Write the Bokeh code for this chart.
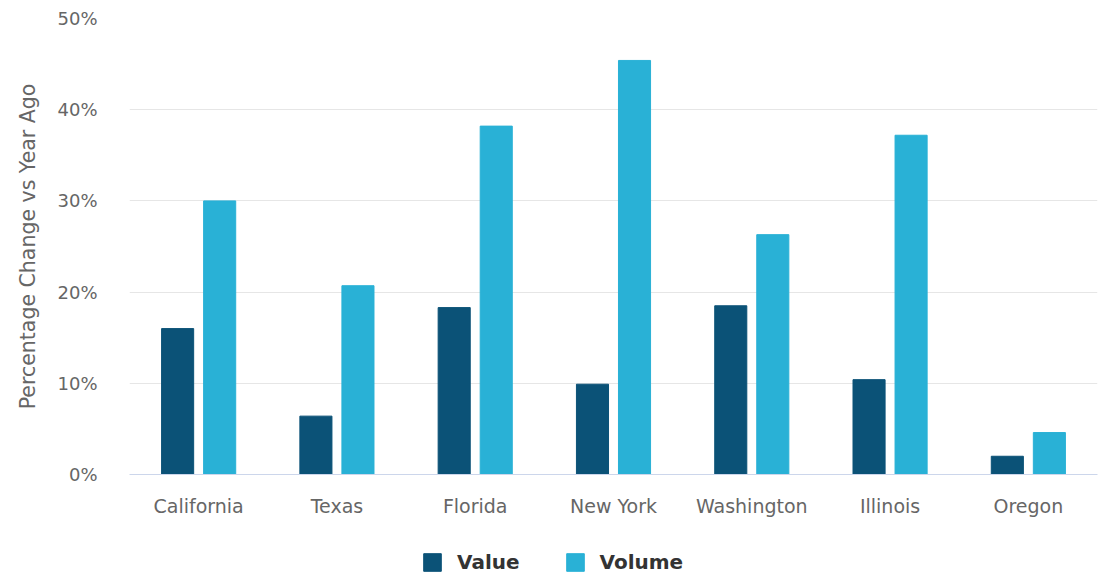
from bokeh.plotting import figure
from bokeh.models import ColumnDataSource, FactorRange, Legend, LegendItem, NumeralTickFormatter, FixedTicker, Range1d
from bokeh.layouts import column
from bokeh.transform import dodge
from bokeh.embed import file_html
from bokeh.resources import INLINE

states = ["California", "Texas", "Florida", "New York", "Washington", "Illinois", "Oregon"]
value_pct = [16.0, 6.4, 18.3, 9.9, 18.5, 10.4, 2.0]
volume_pct = [30.0, 20.7, 38.2, 45.4, 26.3, 37.2, 4.6]
y_ticks = [0, 10, 20, 30, 40, 50]
series_names = ["Value", "Volume"]
series_colors = ["#0b5277", "#29b1d6"]

src = ColumnDataSource(dict(state=states,
                            value=[v / 100 for v in value_pct],
                            volume=[v / 100 for v in volume_pct]))

FONT = "DejaVu Sans"
p = figure(x_range=FactorRange(*states), y_range=Range1d(0, 0.5),
           width=1109, height=530, output_backend="svg", toolbar_location=None,
           min_border_left=129, min_border_right=12, min_border_top=18, min_border_bottom=56)
p.outline_line_color = None

p.vbar(x=dodge("state", -0.152, range=p.x_range), top="value", width=0.232,
       source=src, color=series_colors[0])
p.vbar(x=dodge("state", 0.152, range=p.x_range), top="volume", width=0.232,
       source=src, color=series_colors[1])

p.yaxis.ticker = FixedTicker(ticks=[t / 100 for t in y_ticks])
p.yaxis.formatter = NumeralTickFormatter(format="0%")
p.yaxis.axis_line_color = None
p.yaxis.major_tick_line_color = None
p.yaxis.minor_tick_line_color = None
p.yaxis.major_label_text_font = FONT
p.yaxis.major_label_text_font_size = "18px"
p.yaxis.major_label_text_color = "#666666"
p.yaxis.major_label_standoff = 26
p.yaxis.axis_label = "Percentage Change vs Year Ago"
p.yaxis.axis_label_text_font = FONT
p.yaxis.axis_label_text_font_size = "20.5px"
p.yaxis.axis_label_text_font_style = "normal"
p.yaxis.axis_label_text_color = "#666666"
p.yaxis.axis_label_standoff = 14

p.xaxis.axis_line_color = "#ccd6eb"
p.xaxis.major_tick_line_color = None
p.xaxis.minor_tick_line_color = None
p.xaxis.major_label_text_font = FONT
p.xaxis.major_label_text_font_size = "19px"
p.xaxis.major_label_text_color = "#666666"
p.xaxis.major_label_standoff = 14

p.xgrid.grid_line_color = None
p.ygrid.grid_line_color = "#e6e6e6"
p.x_range.range_padding = 0.0
p.x_range.group_padding = 0.0

# legend strip below the chart (its frame is aligned with the chart's frame)
lg = figure(width=1109, height=47, output_backend="svg", toolbar_location=None,
            x_range=Range1d(0, 1), y_range=Range1d(0, 1),
            min_border_left=129, min_border_right=12, min_border_top=0, min_border_bottom=0)
lg.outline_line_color = None
lg.axis.visible = False
lg.grid.visible = False
items = []
for name, col in zip(series_names, series_colors):
    r = lg.vbar(x=[-5], top=[-5], bottom=[-6], width=0.1, color=col)
    items.append(LegendItem(label=name, renderers=[r]))
legend = Legend(items=items, orientation="horizontal", location=(292, 3),
                label_text_font=FONT, label_text_font_size="20px",
                label_text_font_style="bold", label_text_color="#333333",
                glyph_width=22, glyph_height=22, spacing=44, label_standoff=14,
                border_line_color=None, background_fill_alpha=0,
                margin=0, padding=0)
lg.add_layout(legend, "center")

open("out.html", "w").write(file_html(column(p, lg, spacing=0), INLINE))
